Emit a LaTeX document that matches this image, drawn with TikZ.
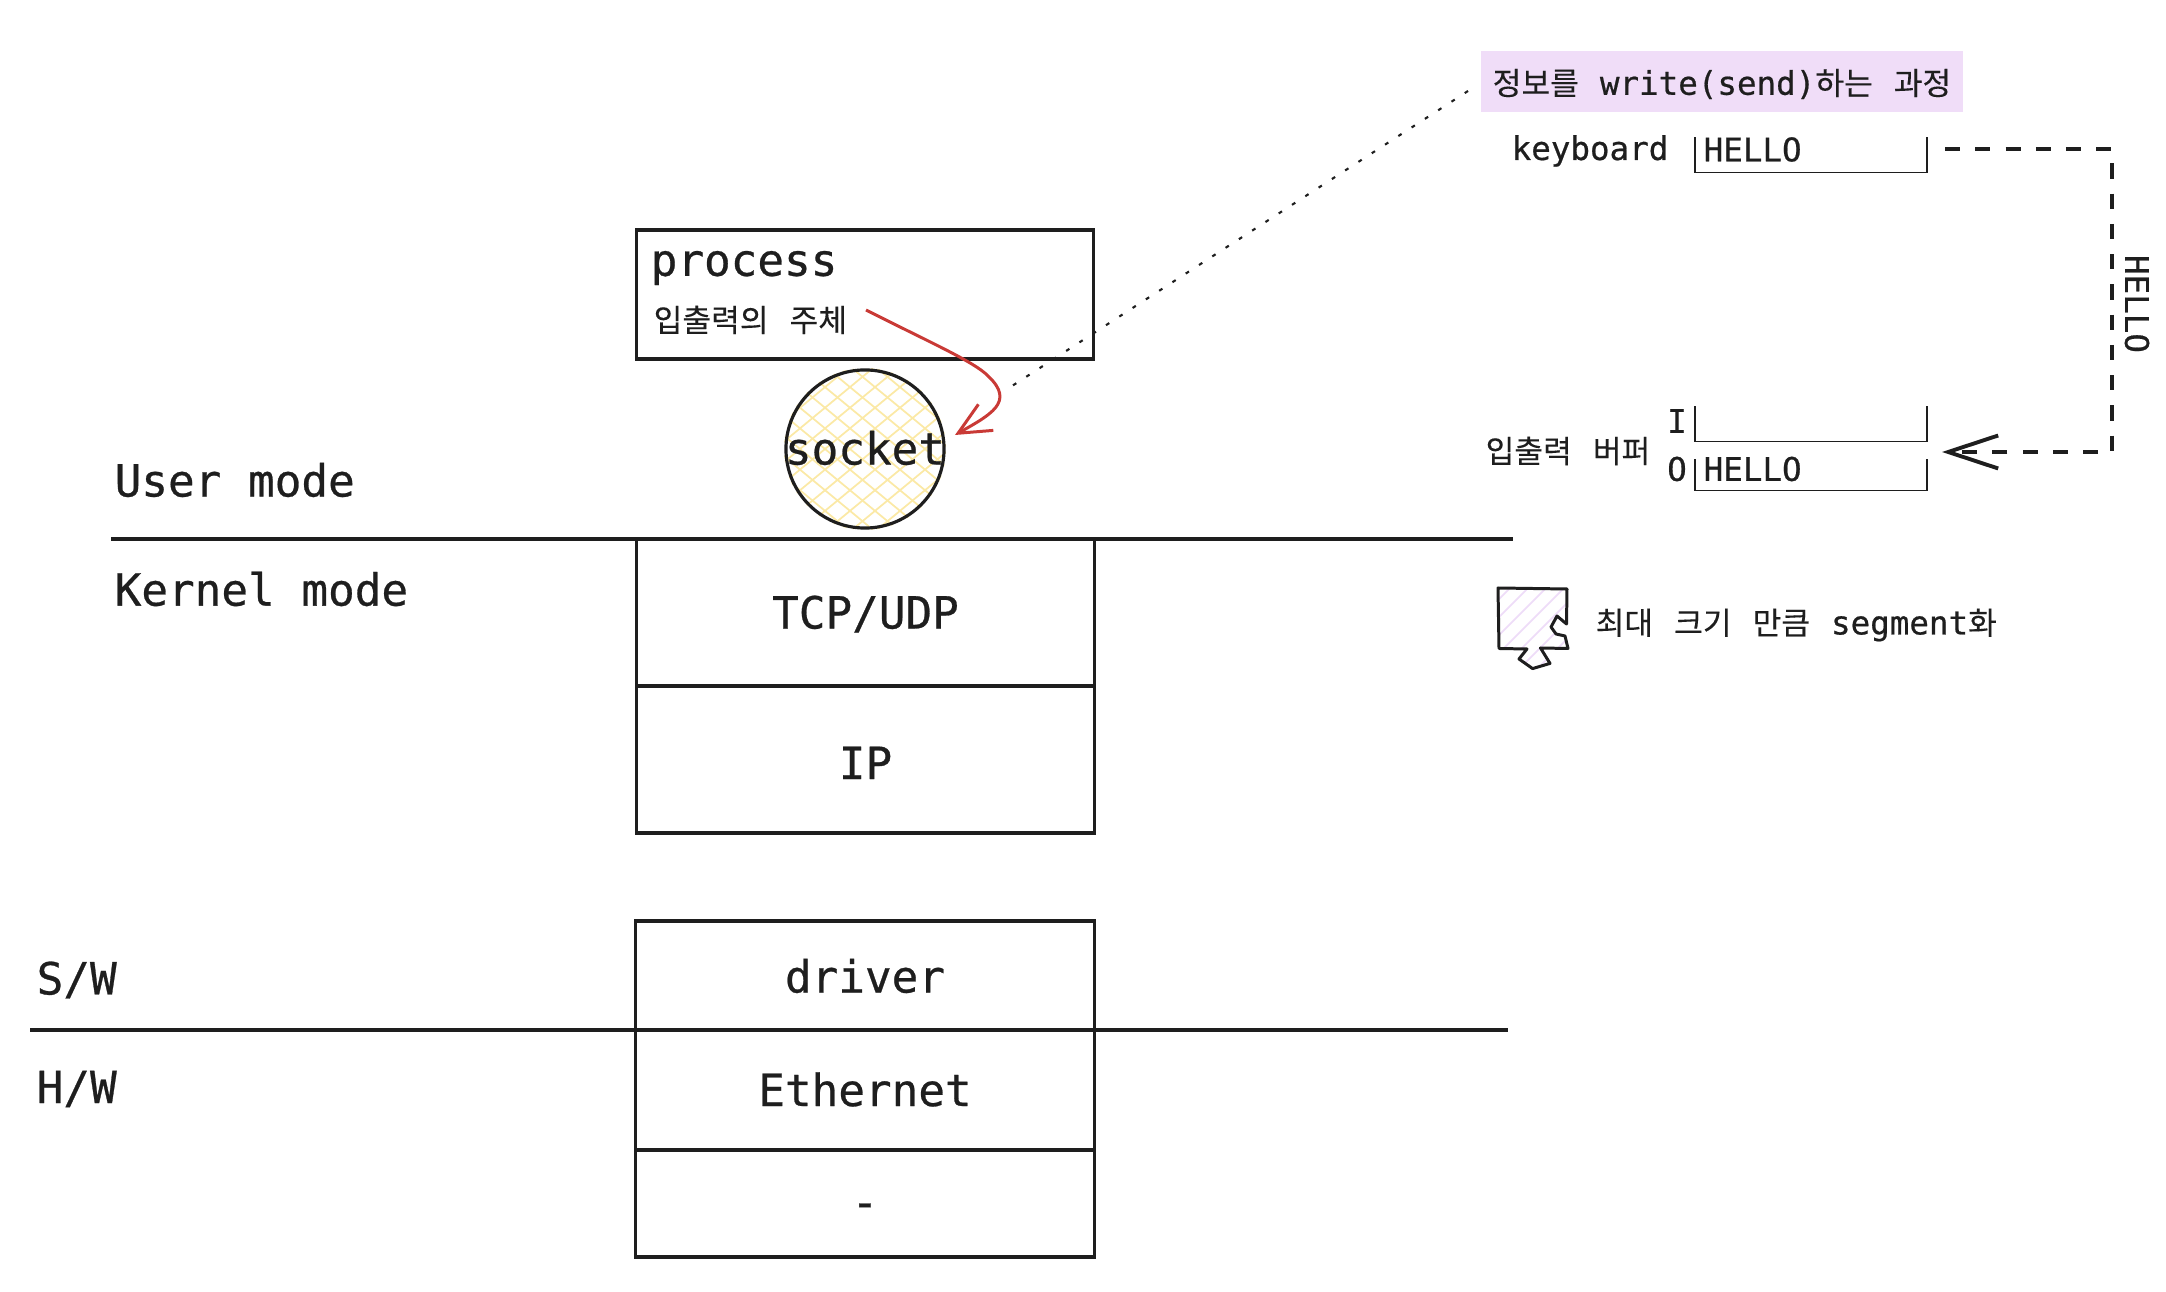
\documentclass[tikz,border=0pt]{standalone}
\usepackage{xcolor}
\usepackage{fontspec}
\setmonofont{DejaVu Sans Mono}[FakeBold=0.6]
\newfontfamily\krfont{Noto Sans CJK KR}[WordSpace=3, Scale=0.96, FakeBold=0.2]
\definecolor{inkblack}{HTML}{1E1E1E}
\definecolor{arrowred}{HTML}{C93A36}
\definecolor{notepurple}{HTML}{F0DDF8}
\definecolor{hatchyellow}{HTML}{FBE9A6}
\definecolor{hatchpurple}{HTML}{EEDDF8}
\newcommand{\bigmono}{\fontsize{12.6}{15}\selectfont\ttfamily}
\newcommand{\smallmono}{\fontsize{9.25}{11}\selectfont\ttfamily}
\usetikzlibrary{arrows.meta, positioning, calc}

\begin{document}
\begin{tikzpicture}[
    x=0.01cm, y=-0.01cm,
    stackbox/.style={rectangle, draw=inkblack, line width=0.9pt, minimum width=4.58cm, align=center, inner sep=0pt, text height=0.32cm, text depth=0cm, font=\bigmono, text=inkblack},
    bigtext/.style={anchor=west, inner sep=0pt, font=\bigmono, text=inkblack},
    smalltext/.style={inner sep=0pt, font=\smallmono, text=inkblack},
    bufbox/.style={rectangle, minimum width=2.3cm, inner sep=0pt},
    bufline/.style={draw=inkblack, line width=0.45pt},
    modeline/.style={draw=inkblack, line width=1pt}
]
    \useasboundingbox (0,0) rectangle (2166,1292);

    % Socket circle with its hatching
    \node[circle, minimum size=1.58cm, inner sep=0pt] (socket) at (865,449) {};
    \begin{scope}
        \clip (865,449) circle (0.81cm);
        \foreach \d in {-240,-215,...,240} {
            \draw[hatchyellow, line width=0.5pt] ({865+\d-200},{449-165}) -- ({865+\d+200},{449+165});
            \draw[hatchyellow, line width=0.5pt] ({865+\d-200},{449+165}) -- ({865+\d+200},{449-165});
        }
    \end{scope}
    \draw[draw=inkblack, line width=0.9pt] (socket.center) circle (0.79cm);
    \node[font=\bigmono, text=inkblack, inner sep=0pt] at (865,448) {socket};

    % Process box
    \node[stackbox, minimum width=4.56cm, minimum height=1.29cm] (process) at (865,294.5) {};
    \node[bigtext] (proclabel) at (650,268) {process};
    \node[smalltext, anchor=west] (subject) at (653,320) {\krfont 입출력의 주체};

    % Protocol stack
    \node[stackbox, minimum height=1.47cm] (tcp) at (865.5,612.5) {TCP/UDP};
    \node[stackbox, minimum height=1.47cm, text height=0.39cm] (ip) at (865.5,759.5) {IP};
    \node[stackbox, minimum height=1.09cm, text height=0.34cm] (driver) at (865,975.5) {driver};
    \node[stackbox, minimum height=1.20cm] (ether) at (865,1090) {Ethernet};
    \node[stackbox, minimum height=1.07cm, text height=0.28cm] (phy) at (865,1203.5) {-};

    % Mode lines
    \coordinate (userl) at (111,539);
    \coordinate (userr) at (1513,539);
    \coordinate (swl) at (30,1030);
    \coordinate (swr) at (1508,1030);
    \draw[modeline] (userl) -- (userr);
    \draw[modeline] (swl) -- (swr);
    \node[bigtext] (user) at (114,480) {User mode};
    \node[bigtext] (kernel) at (114,589) {Kernel mode};
    \node[bigtext] (sw) at (36,980) {S/W};
    \node[bigtext] (hw) at (36,1089) {H/W};

    % Red arrow
    \coordinate (redstart) at (866,310);
    \coordinate (redend) at (955,435);
    \draw[arrowred, line width=0.85pt, -{Straight Barb[length=0.32cm, width=0.30cm, line width=0.85pt]}]
        (redstart) .. controls (925,340) and (975,362) .. (988,376)
        .. controls (1016,402) and (990,415) .. (redend);

    % Note
    \node[rectangle, fill=notepurple, minimum width=4.82cm, minimum height=0.61cm, inner sep=0pt, font=\smallmono, text=inkblack] (note) at (1722,81.5) {};
    \node[font=\smallmono, text=inkblack, inner sep=0pt] (notetext) at (1722,84) {\krfont 정보를 {\ttfamily write(send)}하는 과정};
    \coordinate (dotend) at (1012,386);
    \coordinate (dotstart) at (1468,91);
    \draw[inkblack, line width=0.6pt, dash pattern=on 1.1pt off 3.4pt] (dotstart) -- (dotend);

    % Buffers
    \node[smalltext] (keyboard) at (1590,151) {keyboard};
    \node[bufbox, minimum height=0.34cm] (kbuf) at (1811,155) {};
    \node[bufbox, minimum height=0.34cm] (ibuf) at (1811,424) {};
    \node[bufbox, minimum height=0.30cm] (obuf) at (1811,475) {};
    \draw[bufline] (kbuf.north west) -- (kbuf.south west) -- (kbuf.south east) -- (kbuf.north east);
    \draw[bufline] (ibuf.north west) -- (ibuf.south west) -- (ibuf.south east) -- (ibuf.north east);
    \draw[bufline] (obuf.north west) -- (obuf.south west) -- (obuf.south east) -- (obuf.north east);
    \node[smalltext, anchor=west] (kword) at (1703,149.5) {HELLO};
    \node[smalltext, anchor=west] (oword) at (1703,469) {HELLO};
    \node[smalltext] (ilabel) at (1677,421) {I};
    \node[smalltext] (olabel) at (1677,469) {O};
    \node[smalltext, anchor=east] (iolabel) at (1651,451) {\krfont 입출력 버퍼};

    % Dashed transfer
    \coordinate (dashstart) at (1945,149);
    \coordinate (dashcorner) at (2112,452);
    \coordinate (dashend) at (1942,452);
    \draw[inkblack, line width=1.1pt, dash pattern=on 4.3pt off 4.3pt, -{Straight Barb[length=0.50cm, width=0.33cm, line width=1.1pt]}]
        (dashstart) -| (dashcorner) -- (dashend);
    \node[smalltext, rotate=-90] (wire) at (2137,304) {HELLO};

    % Segment piece
    \begin{scope}
        \clip (1498,588) -- (1567,589) -- (1566.5,624) -- (1557,616) -- (1551,627) -- (1556,634) -- (1565,636) -- (1568,648.5) -- (1540.5,648) -- (1550,663.4) -- (1532.6,668.6) -- (1519,659) -- (1527,649) -- (1499,648.5) -- cycle;
        \foreach \d in {-80,-62,...,80}
            \draw[hatchpurple, line width=0.5pt] ({1480+\d},680) -- ({1580+\d},580);
    \end{scope}
    \draw[inkblack, line width=0.85pt, line join=round] (1498,588) -- (1567,589) -- (1566.5,624) -- (1557,616) -- (1551,627) -- (1556,634) -- (1565,636) -- (1568,648.5) -- (1540.5,648) -- (1550,663.4) -- (1532.6,668.6) -- (1519,659) -- (1527,649) -- (1499,648.5) -- cycle;
    \node[smalltext, anchor=west] (segment) at (1595,625) {\krfont 최대 크기 만큼 {\ttfamily segment}화};

\end{tikzpicture}
\end{document}
